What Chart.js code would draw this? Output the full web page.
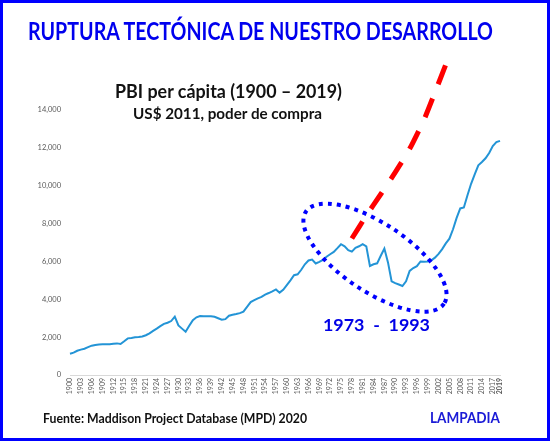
<!DOCTYPE html>
<html>
<head>
<meta charset="utf-8">
<script src="https://cdn.jsdelivr.net/npm/chart.js@4.4.1/dist/chart.umd.min.js"></script>
<style>
  body { margin: 0; background: #fff; }
  #wrap { position: relative; width: 550px; height: 441px; overflow: hidden; font-family: Lato, sans-serif; }
  #wrap canvas { position: absolute; left: 0; top: 0; }
  .txt { position: absolute; white-space: pre; font-weight: bold; line-height: 1; transform-origin: 0 0; }
  #frame { position: absolute; left: 0; top: 0; right: 0; bottom: 0; border: 3px solid #0000ff; pointer-events: none; }
</style>
</head>
<body>
<div id="wrap">
  <canvas id="gdpChart" width="550" height="441"></canvas>
  <div class="txt" id="t-title" style="color:#0000ee">RUPTURA TECTÓNICA DE NUESTRO DESARROLLO</div>
  <div class="txt" id="t-sub1" style="color:#111">PBI per cápita (1900 – 2019)</div>
  <div class="txt" id="t-sub2" style="color:#111">US$ 2011, poder de compra</div>
  <div class="txt" id="t-range" style="color:#0000e6">1973  -  1993</div>
  <div class="txt" id="t-source" style="color:#111">Fuente: Maddison Project Database (MPD) 2020</div>
  <div class="txt" id="t-brand" style="color:#1a1ad6">LAMPADIA</div>
  <div id="frame"></div>
</div>
<script>
// years 1900..2019 (categories)
const years = [];
for (let y = 1900; y <= 2019; y++) years.push(String(y));

// PBI per cápita, US$ 2011 PPP
const gdpPerCapita = [
  1120, 1180, 1280, 1340, 1390, 1470, 1550, 1590, 1615, 1620,   // 1900s
  1620, 1620, 1650, 1670, 1635, 1780, 1935, 1960, 1990, 2010,   // 1910s
  2035, 2100, 2200, 2330, 2450, 2580, 2700, 2760, 2850, 3080,   // 1920s
  2620, 2450, 2285, 2600, 2900, 3050, 3115, 3110, 3110, 3100,   // 1930s
  3075, 3000, 2920, 2950, 3130, 3180, 3220, 3270, 3350, 3600,   // 1940s
  3850, 3950, 4050, 4130, 4250, 4330, 4420, 4520, 4350, 4500,   // 1950s
  4750, 5000, 5270, 5320, 5560, 5850, 6050, 6100, 5890, 5980,   // 1960s
  6080, 6250, 6380, 6500, 6700, 6910, 6800, 6600, 6520, 6720,   // 1970s
  6800, 6910, 6800, 5760, 5850, 5900, 6300, 6680, 5950, 4950,   // 1980s
  4850, 4780, 4700, 4950, 5500, 5650, 5750, 6000, 5980, 6000,   // 1990s
  6060, 6200, 6400, 6650, 6950, 7200, 7700, 8300, 8800, 8850,   // 2000s
  9500, 10100, 10600, 11080, 11250, 11450, 11730, 12100, 12300, 12370 // 2010s
];

// red dashed "what could have been" trend
const projectionYears  = ['1978', '1982', '1986', '1990', '1994', '1998', '2001', '2004'];
const projectionValues = [7210, 8420, 9550, 10700, 11950, 13500, 14930, 16400];

// labelled years on the x axis
const tickYears = ['1900','1903','1906','1909','1912','1915','1918','1921','1924','1927',
  '1930','1933','1936','1939','1942','1945','1948','1951','1954','1957','1960','1963',
  '1966','1969','1972','1975','1978','1981','1984','1987','1990','1993','1996','1999',
  '2002','2005','2008','2011','2014','2017','2019'];

const yMax = 14000;
const yStep = 2000;

// the 1973-1993 period circled in the picture (centre in data units)
const crisisCenterYear = 1984.4;
const crisisCenterValue = 6200;

const projection = projectionYears.map((y, i) => ({ x: y, y: projectionValues[i] }));

const crisisEllipse = {
  id: 'crisisEllipse',
  afterDatasetsDraw(chart) {
    const xs = chart.scales.x, ys = chart.scales.y, c = chart.ctx;
    const cx = xs.getPixelForValue(crisisCenterYear - 1900);
    const cy = ys.getPixelForValue(crisisCenterValue);
    c.save();
    c.strokeStyle = '#0000ff';
    c.lineWidth = 4;
    c.setLineDash([4, 5]);
    c.beginPath();
    c.ellipse(cx, cy, 83, 34, 33.7 * Math.PI / 180, 0, Math.PI * 2);
    c.stroke();
    c.restore();
  }
};

new Chart(document.getElementById('gdpChart'), {
  type: 'line',
  data: {
    labels: years,
    datasets: [
      {
        label: 'PBI per cápita',
        data: gdpPerCapita,
        borderColor: '#2394d6',
        borderWidth: 2,
        pointRadius: 0,
        tension: 0
      },
      {
        label: 'Tendencia',
        data: projection,
        borderColor: '#ff0000',
        borderWidth: 5,
        borderDash: [20, 15.5],
        pointRadius: 0,
        tension: 0.2,
        clip: false
      }
    ]
  },
  options: {
    responsive: false,
    animation: false,
    layout: { padding: { left: 0, right: 50, top: 110, bottom: 0 } },
    plugins: { legend: { display: false }, tooltip: { enabled: false } },
    scales: {
      x: {
        grid: { display: false, drawTicks: false },
        border: { display: true, color: '#d9d9d9', width: 1 },
        afterFit: (s) => { s.height = 66; },
        ticks: {
          autoSkip: false,
          minRotation: 90,
          maxRotation: 90,
          padding: 3,
          color: '#595959',
          font: (ctx) => ({ family: 'Lato', size: 7, weight: ctx.index === years.length - 1 ? 'bold' : 'normal' }),
          callback: function (val, index) {
            const lbl = years[index];
            return tickYears.includes(lbl) ? lbl : '';
          }
        }
      },
      y: {
        min: 0,
        max: yMax,
        grid: { display: false, drawTicks: false },
        border: { display: false },
        afterFit: (s) => { s.width = 70; },
        ticks: {
          stepSize: yStep,
          padding: 9,
          color: '#595959',
          font: { family: 'Lato', size: 7.5 },
          callback: (v) => v.toLocaleString('en-US')
        }
      }
    }
  },
  plugins: [crisisEllipse]
});

// text placement: left, baseline, target width, font size
const textBoxes = [
  ['t-title', 28, 40, 465, 24],
  ['t-sub1', 115, 98.5, 227, 18.5],
  ['t-sub2', 133, 119, 189, 14.8],
  ['t-range', 323, 331.7, 107, 16.2],
  ['t-source', 43, 423.5, 264, 14],
  ['t-brand', 430, 423.5, 70, 14.7]
];
textBoxes.forEach(([id, left, base, w, size]) => {
  const el = document.getElementById(id);
  el.style.fontSize = size + 'px';
  el.style.left = left + 'px';
  el.style.top = (base - 0.887 * size) + 'px';
  const natural = el.getBoundingClientRect().width;
  el.style.transform = 'scaleX(' + (w / natural) + ')';
});
</script>
</body>
</html>
